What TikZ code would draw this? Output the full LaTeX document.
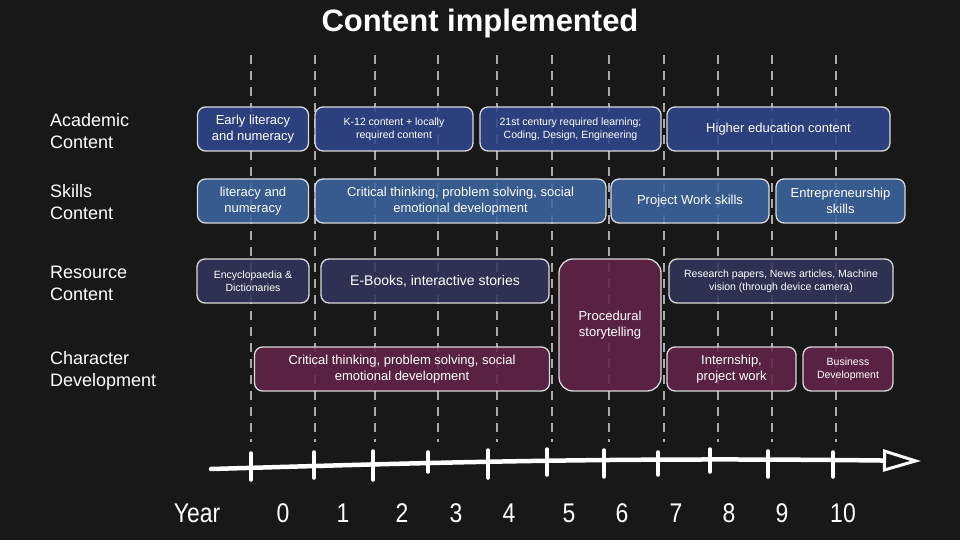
\documentclass[tikz,border=0pt]{standalone}
\usepackage{fontspec}
\setmainfont{Liberation Sans}
\newfontfamily\narrowyear[FakeStretch=0.85]{Liberation Sans}
\usetikzlibrary{arrows.meta}
\definecolor{BoardBg}{RGB}{24,24,24}
\definecolor{AcadBlue}{RGB}{46,70,140}
\definecolor{SkillBlue}{RGB}{60,100,160}
\definecolor{ResSlate}{RGB}{52,52,92}
\definecolor{CharPlum}{RGB}{98,36,74}
\definecolor{ChalkGrey}{RGB}{170,170,170}
\tikzset{
  lane box/.style={
    draw=white!85!black,
    line width=1.3pt,
    rounded corners=8pt,
    align=center,
    text=white,
    inner sep=2pt,
    fill opacity=0.88,
    text opacity=1,
    minimum height=44pt,
    font=\fontsize{13}{16}\selectfont
  },
  acad box/.style={lane box, fill=AcadBlue},
  skill box/.style={lane box, fill=SkillBlue},
  res box/.style={lane box, fill=ResSlate},
  char box/.style={lane box, fill=CharPlum},
  small text/.style={font=\fontsize{10.5}{13}\selectfont},
  lane label/.style={anchor=west, align=left, text=white, inner sep=0pt, font=\fontsize{18}{22}\selectfont},
  year label/.style={text=white, font=\narrowyear\fontsize{27}{30}\selectfont},
  year rule/.style={ChalkGrey, line width=1.3pt, dash pattern=on 9pt off 7pt},
  timeline/.style={white, line width=4.5pt, line cap=round,
    -{Triangle[open,length=38pt,width=22pt,line width=3pt]}},
  year tick/.style={white, line width=3.5pt, line cap=round}
}

\begin{document}
\begin{tikzpicture}[x=1pt,y=-1pt]
\fill[BoardBg] (0,0) rectangle (960,540);
\useasboundingbox (0,0) rectangle (960,540);
\node[text=white, font=\fontsize{31}{34}\selectfont\bfseries] (title) at (480,23) {Content implemented};
% year rules
\foreach \x in {251,315,375,438,497,552,609,664,718,772,836}
  \draw[year rule] (\x,55) -- (\x,442);
% lanes
\node[lane label] (acad) at (50,131) {Academic\\Content};
\node[lane label] (skill) at (50,202.5) {Skills\\Content};
\node[lane label] (res) at (50,283) {Resource\\Content};
\node[lane label] (char) at (50,371) {Character\\Development};
% academic content
\node[acad box, minimum width=111pt] (acEarly) at (253,129) {Early literacy\\and numeracy};
\node[acad box, small text, minimum width=158pt] (acKtw) at (394,129) {K-12 content + locally\\required content};
\node[acad box, small text, minimum width=181pt] (acCent) at (570.5,129) {21st century required learning;\\Coding, Design, Engineering};
\node[acad box, minimum width=223pt] (acHigher) at (778.5,129) {Higher education content};
% skills content
\node[skill box, minimum width=111pt] (skLit) at (253,201) {literacy and\\numeracy};
\node[skill box, minimum width=291pt] (skCrit) at (460.5,201) {Critical thinking, problem solving, social\\emotional development};
\node[skill box, minimum width=158pt] (skProj) at (690,201) {Project Work skills};
\node[skill box, minimum width=129pt] (skEnt) at (840.5,201) {Entrepreneurship\\skills};
% resource content
\node[res box, small text, minimum width=112pt] (rsEnc) at (253,281) {Encyclopaedia \&\\Dictionaries};
\node[res box, minimum width=228pt, font=\fontsize{14}{17}\selectfont] (rsBook) at (435,281) {E-Books, interactive stories};
\node[char box, rounded corners=14pt, minimum width=102pt, minimum height=132pt] (rsProc) at (610,325) {Procedural\\storytelling};
\node[res box, small text, minimum width=224pt] (rsRes) at (781,281) {Research papers, News articles, Machine\\vision (through device camera)};
% character development
\node[char box, minimum width=295pt] (chCrit) at (402,369) {Critical thinking, problem solving, social\\emotional development};
\node[char box, minimum width=129pt] (chIntern) at (731.5,369) {Internship,\\project work};
\node[char box, small text, minimum width=90pt] (chBiz) at (848,369) {Business\\Development};
% timeline
\coordinate (tlStart) at (211,469);
\coordinate (tlEnd) at (921,461);
\draw[timeline] (tlStart) .. controls (420,463) and (600,457) .. (tlEnd);
\foreach \x/\t/\b in {251/453/480,314/452/478,373/451/480,428/452/472,488/450/478,547/449/475,604/450/477,658/452/475,710/449/472,768/451/477,833/452/477}
  \draw[year tick] (\x,\t) -- (\x,\b);
\node[year label] (yrHead) at (197,513) {Year};
\foreach \x/\n in {283/0,343/1,402/2,456/3,509/4,569/5,622/6,676/7,729/8,782/9,843/10}
  \node[year label] (yr\n) at (\x,513) {\n};
\end{tikzpicture}
\end{document}
